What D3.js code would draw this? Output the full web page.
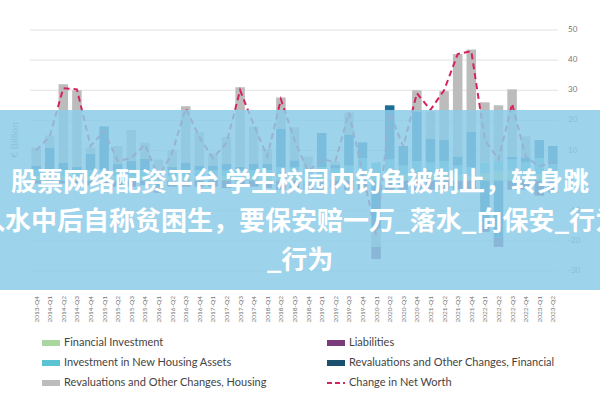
<!DOCTYPE html>
<html><head><meta charset="utf-8">
<script src="https://cdn.jsdelivr.net/npm/d3@7"></script>
<style>body{margin:0;background:#fff}svg{display:block}</style>
</head><body>
<svg id="chart" width="600" height="400"></svg>
<script>
// Quarterly household net worth components, € billion
const quarters = ['2013-Q4','2014-Q1','2014-Q2','2014-Q3','2014-Q4','2015-Q1','2015-Q2','2015-Q3','2015-Q4',
  '2016-Q1','2016-Q2','2016-Q3','2016-Q4','2017-Q1','2017-Q2','2017-Q3','2017-Q4','2018-Q1','2018-Q2','2018-Q3',
  '2018-Q4','2019-Q1','2019-Q2','2019-Q3','2019-Q4','2020-Q1','2020-Q2','2020-Q3','2020-Q4','2021-Q1','2021-Q2',
  '2021-Q3','2021-Q4','2022-Q1','2022-Q2','2022-Q3','2022-Q4','2023-Q1','2023-Q2'];
const finInvest   = [1.5,1.5,1.5,1.5,1.5,1.5,1.5,1.5,1.5,1,1.5,1.5,1.5,1.5,1.5,1.5,1.5,1.5,2,2,1.5,2,1.5,2,2.5,2,3,2,2.5,2.5,3,2,1.5,2.5,3,3.5,2.5,2,1.5];
const housingInv  = [2,2,2,2,2,2,2,2,2,2,2,2,2,2,2,2,2,2,2.5,2.5,2.5,2.5,2.5,3,5,4,4,3,4,3.5,3.5,3,3,3.5,3.5,3.5,3.5,5.5,4];
const revFin      = [1.5,7.5,2.5,1,5.5,14.5,2,3,3.8,-2,1,2.5,1.5,1.5,2,1,2.2,2,12.8,2.2,-1,11.3,1.3,10.3,5.2,-16,18,6.5,16.5,8,7,3,11.8,-14,-19,1,1.7,6,6];
const revHousing  = [6,4,26,25.5,2,0,6,10.3,5.3,4,5.5,18.7,11,4,9,26.5,12.3,5,10.3,11,4,0,1,7.3,0,-6,0,0,7,9,16.2,34,27.2,20,18.5,22.3,7,0,0];
const liabilities = [-1,-1,-1,-1,-1.5,-1.5,-2,-2,-1.5,-2,-2,-2,-2,-2,-2.5,-2,-2,-2.5,-3,-2.5,-2,-3,-2.5,-3,-3,-4,-3,-3,-3.5,-3,-3,-3,-3.5,-3,-3,-3,-3,-5,-4];
const netWorth    = [10,14.7,30.7,30.3,11.5,16.5,6.5,7.5,12,1,9.2,24,14.5,7.5,12.5,30,18.5,8,27,13.5,3,7,6.3,22.5,3,-18,22.5,11.3,29,23.5,30,42,43,13.5,7,25.5,8,4.7,6];
const yTicks = [50,40,30,20,10,0,-10,-20,-30];

const series = [
  {key:'fin', color:'#a8d8a0', vals:finInvest},
  {key:'hinv', color:'#5cc3d4', vals:housingInv},
  {key:'rfin', color:'#1b6f97', vals:revFin},
  {key:'rhouse', color:'#bcbcbc', vals:revHousing},
  {key:'liab', color:'#7a3b78', vals:liabilities}
];
const rows = quarters.map((q,i) => {
  const r = {q};
  series.forEach(s => r[s.key] = s.vals[i]);
  return r;
});

const svg = d3.select('#chart');
const x = d3.scaleBand().domain(quarters).range([30, 559]).paddingInner(0.3).paddingOuter(0.1);
const y = d3.scaleLinear().domain([-30, 50]).range([271, 30]);

// gridlines + right axis labels
svg.append('g').selectAll('line').data(yTicks).join('line')
  .attr('x1', 30).attr('x2', 558).attr('y1', d => y(d)).attr('y2', d => y(d))
  .attr('stroke', '#e2e2e2').attr('stroke-width', 1);
svg.append('g').selectAll('text').data(yTicks).join('text')
  .attr('x', 568).attr('y', d => y(d)).attr('dominant-baseline', 'middle')
  .attr('font-family', 'Lato, sans-serif').attr('font-size', 8).attr('fill', '#777')
  .text(d => d);

const stack = d3.stack().keys(series.map(s => s.key)).offset(d3.stackOffsetDiverging)(rows);
svg.append('g').selectAll('g').data(stack).join('g')
  .attr('fill', (d,i) => series[i].color)
  .selectAll('rect').data(d => d).join('rect')
  .attr('x', d => x(d.data.q)).attr('width', x.bandwidth())
  .attr('y', d => y(Math.max(d[0], d[1])))
  .attr('height', d => Math.abs(y(d[0]) - y(d[1])));

const line = d3.line().x((d,i) => x(quarters[i]) + x.bandwidth()/2).y(d => y(d));
svg.append('path').datum(netWorth).attr('d', line)
  .attr('fill', 'none').attr('stroke', '#d4245e').attr('stroke-width', 2)
  .attr('stroke-dasharray', '6,4');

// x labels
svg.append('g').selectAll('text').data(quarters).join('text')
  .attr('transform', d => `translate(${x(d) + x.bandwidth()/2 + 2.5},296) rotate(-90)`)
  .attr('text-anchor', 'end').attr('font-family', 'Lato, sans-serif').attr('font-size', 6.5).attr('fill', '#777')
  .text(d => d);

svg.append('text').attr('transform', 'translate(18,140) rotate(-90)')
  .attr('text-anchor', 'middle').attr('font-family', 'Lato, sans-serif').attr('font-size', 10)
  .attr('fill', '#6a8fa8').text('€ Billion');

// legend
const legend = [
  {name:'Financial Investment', color:'#a8d8a0', col:0, row:0},
  {name:'Investment in New Housing Assets', color:'#5cc3d4', col:0, row:1},
  {name:'Revaluations and Other Changes, Housing', color:'#bcbcbc', col:0, row:2},
  {name:'Liabilities', color:'#7a3b78', col:1, row:0},
  {name:'Revaluations and Other Changes, Financial', color:'#1b4f6e', col:1, row:1},
  {name:'Change in Net Worth', color:'#d4245e', col:1, row:2, dash:true}
];
const lg = svg.append('g').selectAll('g').data(legend).join('g')
  .attr('transform', d => `translate(${d.col ? 327 : 42},${343 + d.row * 20})`);
lg.append('line').attr('x1', 0).attr('x2', 18).attr('y1', 0).attr('y2', 0)
  .attr('stroke', d => d.color).attr('stroke-width', d => d.dash ? 2 : 6)
  .attr('stroke-dasharray', d => d.dash ? '5,3' : null);
lg.append('text').attr('x', 22).attr('y', 0).attr('dominant-baseline', 'middle')
  .attr('font-family', 'Lato, sans-serif').attr('font-size', 11).attr('fill', '#444')
  .text(d => d.name);

// overlay banner
svg.append('rect').attr('x', 0).attr('y', 110).attr('width', 600).attr('height', 180)
  .attr('fill', '#8ccbe8').attr('opacity', 0.85);
const bannerLines = ['股票网络配资平台 学生校园内钓鱼被制止，转身跳', '入水中后自称贫困生，要保安赔一万_落水_向保安_行为', '_行为'];
svg.append('g').selectAll('text').data(bannerLines).join('text')
  .attr('x', 300).attr('y', (d,i) => 184 + i * 39).attr('text-anchor', 'middle').attr('dominant-baseline', 'middle')
  .attr('font-family', '"Noto Sans CJK SC", sans-serif').attr('font-weight', 700).attr('font-size', 26)
  .attr('fill', '#fff').text(d => d);
</script>
</body></html>
